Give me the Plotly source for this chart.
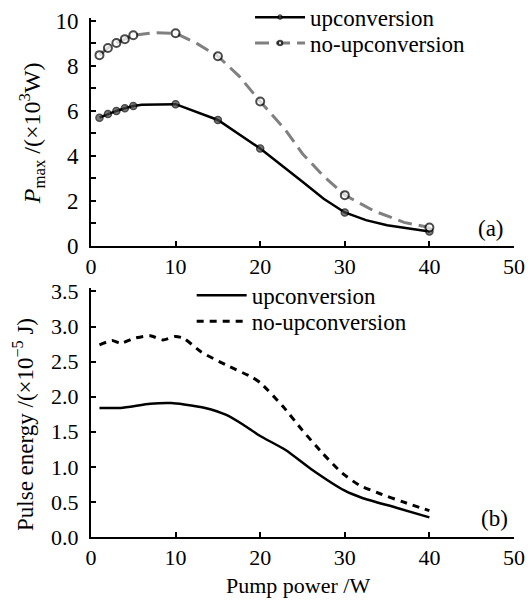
import plotly.graph_objects as go

# ---------------- data ----------------
# panel (a): peak power P_max (x10^3 W) vs pump power (W)
a_up_x = [1, 2, 3, 4, 5, 6, 8, 10, 15, 18, 20, 25, 27.5, 30, 32.5, 35, 40]
a_up_y = [5.7, 5.86, 6.0, 6.12, 6.22, 6.28, 6.3, 6.3, 5.6, 4.85, 4.33, 2.85, 2.1, 1.49, 1.15, 0.92, 0.64]
a_noup_x = [1, 2, 3, 4, 5, 7.5, 10, 12.5, 15, 17.5, 20, 23, 25, 27.5, 30, 33.5, 37, 40]
a_noup_y = [8.48, 8.8, 9.02, 9.19, 9.36, 9.48, 9.45, 9.0, 8.43, 7.55, 6.42, 5.15, 4.1, 3.1, 2.26, 1.55, 1.05, 0.82]
a_marked_x = [1, 2, 3, 4, 5, 10, 15, 20, 30, 40]

# panel (b): pulse energy (x10^-5 J) vs pump power (W)
b_up_x = [1, 3.5, 7, 9.5, 11, 13.5, 16, 18, 20, 23, 26, 30, 32, 36, 40]
b_up_y = [1.84, 1.84, 1.90, 1.91, 1.89, 1.84, 1.74, 1.6, 1.44, 1.24, 0.97, 0.66, 0.56, 0.42, 0.28]
b_noup_x = [1, 2.5, 3.5, 5, 7, 8.5, 10, 11, 13, 16, 19, 20, 22.7, 25, 27.4, 29.7, 31.7, 34.1, 36.9, 40]
b_noup_y = [2.74, 2.80, 2.76, 2.83, 2.87, 2.81, 2.86, 2.83, 2.64, 2.45, 2.28, 2.2, 1.86, 1.52, 1.19, 0.91, 0.74, 0.62, 0.50, 0.375]

series_names = ["upconversion", "no-upconversion"]
x_ticks = [0, 10, 20, 30, 40, 50]
a_y_ticks = [0, 2, 4, 6, 8, 10]
b_y_ticks = [0.0, 0.5, 1.0, 1.5, 2.0, 2.5, 3.0, 3.5]

FONT = "Liberation Serif"

def sizes(xs, marked, s):
    return [s if x in marked else 0 for x in xs]

fig = go.Figure()

# panel (a)
fig.add_trace(go.Scatter(
    x=a_up_x, y=a_up_y, name=series_names[0], mode="lines+markers",
    line=dict(color="black", width=2.5),
    marker=dict(symbol="circle", size=sizes(a_up_x, a_marked_x, 7), color="#444",
                line=dict(color="black", width=1.5)),
    xaxis="x", yaxis="y", legend="legend"))
fig.add_trace(go.Scatter(
    x=a_noup_x, y=a_noup_y, name=series_names[1], mode="lines+markers",
    line=dict(color="#808080", width=3, dash="14px,7px"),
    marker=dict(symbol="circle", size=sizes(a_noup_x, a_marked_x, 8), color="white",
                line=dict(color="black", width=2)),
    xaxis="x", yaxis="y", legend="legend2"))

# panel (b)
fig.add_trace(go.Scatter(
    x=b_up_x, y=b_up_y, name=series_names[0], mode="lines",
    line=dict(color="black", width=2.5, shape="spline", smoothing=0.6),
    xaxis="x2", yaxis="y2", legend="legend3"))
fig.add_trace(go.Scatter(
    x=b_noup_x, y=b_noup_y, name=series_names[1], mode="lines",
    line=dict(color="black", width=3, dash="7px,6px", shape="spline", smoothing=0.6),
    xaxis="x2", yaxis="y2", legend="legend4"))

axis_common = dict(showline=True, linecolor="black", linewidth=2, ticks="inside",
                   ticklen=5, tickwidth=1.5, tickcolor="black", showgrid=False,
                   zeroline=False, mirror=False)

leg_common = dict(xanchor="left", yanchor="top", bgcolor="rgba(0,0,0,0)",
                  font=dict(family=FONT, size=23), itemwidth=50)

fig.update_layout(
    width=528, height=603,
    margin=dict(l=91, r=14, t=18, b=66, autoexpand=False),
    plot_bgcolor="white", paper_bgcolor="white",
    font=dict(family=FONT, color="black", size=22),
    xaxis=dict(domain=[0, 1], range=[0, 50], tickvals=x_ticks, anchor="y",
               tickfont=dict(family=FONT, size=22), **axis_common),
    yaxis=dict(domain=[0.5607, 1], range=[0, 10.13], tickvals=a_y_ticks, anchor="x",
               minor=dict(dtick=1, ticks="inside", ticklen=5, tickwidth=1.5, tickcolor="black"),
               tickfont=dict(family=FONT, size=23), ticklabelstandoff=6, **axis_common),
    xaxis2=dict(domain=[0, 1], range=[0, 50], tickvals=x_ticks, anchor="y2",
                tickfont=dict(family=FONT, size=22), **axis_common),
    yaxis2=dict(domain=[0, 0.4798], range=[0, 3.55], tickvals=b_y_ticks, anchor="x2",
                tickformat=".1f", tickfont=dict(family=FONT, size=22), ticklabelstandoff=6,
                **axis_common),
    legend=dict(x=0.376, y=1.043, **leg_common),
    legend2=dict(x=0.376, y=0.993, **leg_common),
    legend3=dict(x=0.238, y=0.507, **leg_common),
    legend4=dict(x=0.238, y=0.457, **leg_common),
    showlegend=True,
)

ann = dict(xref="paper", yref="paper", showarrow=False, xanchor="center", yanchor="middle")
fig.add_annotation(text="<i>P</i><sub>max</sub> /(×10<sup>3</sup>W)", textangle=-90,
                   x=-0.1395, y=0.778, font=dict(family=FONT, size=24), **ann)
fig.add_annotation(text="Pulse energy /(×10<sup>−5</sup> J)", textangle=-90,
                   x=-0.1608, y=0.2177, font=dict(family=FONT, size=23), **ann)
fig.add_annotation(text="Pump power /W", x=0.489, y=-0.094,
                   font=dict(family=FONT, size=22), **ann)
fig.add_annotation(text="(a)", x=0.9456, y=0.595, font=dict(family=FONT, size=23), **ann)
fig.add_annotation(text="(b)", x=0.953, y=0.0347, font=dict(family=FONT, size=23), **ann)

fig.write_html("out.html")
